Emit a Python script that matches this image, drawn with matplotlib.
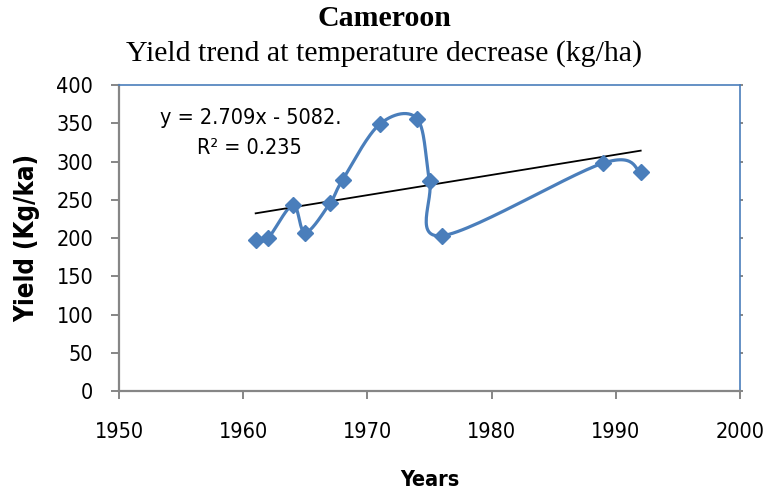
import numpy as np
import matplotlib.pyplot as plt
from matplotlib import font_manager

# valores
years = [1961, 1962, 1964, 1965, 1967, 1968, 1971, 1974, 1975, 1976, 1989, 1992]
yield_kg = [197, 200, 243, 207, 246, 276, 349, 356, 275, 203, 298, 286]
eq_text = "y = 2.709x - 5082."
r2_text = "R² = 0.235"

# buscar una fuente estrecha si existe
narrow = None
narrow_bold = None
for f in font_manager.fontManager.ttflist:
    tag = (f.name + ' ' + f.fname).lower()
    if ('narrow' in tag or 'condensed' in tag or f.stretch in ('condensed', 'semi-condensed')) \
            and f.style == 'normal' and 'semicondensed' not in tag:
        w = f.weight if isinstance(f.weight, int) else (700 if 'bold' in str(f.weight) else 400)
        if w >= 600 and narrow_bold is None:
            narrow_bold = f.fname
        elif w < 600 and narrow is None:
            narrow = f.fname

if narrow:
    fp = font_manager.FontProperties(fname=narrow)
    fs_tick, fs_txt = 15.5, 15.5
else:
    fp = font_manager.FontProperties(family='Liberation Sans')
    fs_tick, fs_txt = 16, 16
if narrow_bold:
    fpb = font_manager.FontProperties(fname=narrow_bold)
    fs_xlab, fs_ylab = 15.5, 18.5
else:
    fpb = font_manager.FontProperties(family='Liberation Sans', weight='bold')
    fs_xlab, fs_ylab = 15.5, 17

serif = 'Liberation Serif'
blue = '#4A7EBB'
gray = '#868686'


def excel_smooth(x, y, n=30):
    # curva suavizada tipo Excel (Bezier con puntos de control de Catmull-Rom)
    x = np.asarray(x, float)
    y = np.asarray(y, float)
    px, py = [], []
    for i in range(len(x) - 1):
        x0, y0 = (x[i - 1], y[i - 1]) if i > 0 else (x[i], y[i])
        x3, y3 = (x[i + 2], y[i + 2]) if i + 2 < len(x) else (x[i + 1], y[i + 1])
        p1 = (x[i], y[i])
        p2 = (x[i + 1], y[i + 1])
        c1 = (p1[0] + (p2[0] - x0) / 6, p1[1] + (p2[1] - y0) / 6)
        c2 = (p2[0] - (x3 - p1[0]) / 6, p2[1] - (y3 - p1[1]) / 6)
        t = np.linspace(0, 1, n)
        bx = (1 - t) ** 3 * p1[0] + 3 * (1 - t) ** 2 * t * c1[0] + 3 * (1 - t) * t ** 2 * c2[0] + t ** 3 * p2[0]
        by = (1 - t) ** 3 * p1[1] + 3 * (1 - t) ** 2 * t * c1[1] + 3 * (1 - t) * t ** 2 * c2[1] + t ** 3 * p2[1]
        px.extend(bx)
        py.extend(by)
    return np.array(px), np.array(py)


fig = plt.figure(figsize=(7.68, 4.94), dpi=100)
ax = fig.add_axes([0.155, 0.2085, 0.8086, 0.6194])

sx, sy = excel_smooth(years, yield_kg)
ax.plot(sx, sy, color=blue, lw=2.3, zorder=2)
ax.plot(years, yield_kg, linestyle='none', marker='D', ms=8, color=blue, zorder=3)

# línea de tendencia
m, b = np.polyfit(years, yield_kg, 1)
tx = np.array([years[0], years[-1]])
ax.plot(tx, m * tx + b, color='black', lw=1.3, zorder=2)

ax.set_xlim(1950, 2000)
ax.set_ylim(0, 400)
ax.set_xticks(range(1950, 2001, 10))
ax.set_yticks(range(0, 401, 50))

for s in ['left', 'bottom']:
    ax.spines[s].set_color(gray)
    ax.spines[s].set_linewidth(1.6)
for s in ['top', 'right']:
    ax.spines[s].set_color(blue)
    ax.spines[s].set_linewidth(1.2)

ax.tick_params(axis='both', direction='out', color=gray, width=1.4, length=5.5)
ax.tick_params(axis='x', pad=17)
ax.tick_params(axis='y', pad=13)
ax.tick_params(axis='y', which='major', right=True)
for t in ax.yaxis.get_major_ticks():
    t.tick2line.set_markersize(2.5)
for lab in ax.get_xticklabels() + ax.get_yticklabels():
    lab.set_fontproperties(fp)
    lab.set_fontsize(fs_tick)

ax.set_xlabel('Years', fontproperties=fpb, fontsize=fs_xlab, labelpad=20)
ax.set_ylabel('Yield (Kg/ka)', fontproperties=fpb, fontsize=fs_ylab, labelpad=12)

ax.text(1953.3, 357, eq_text, fontproperties=fp, fontsize=fs_txt, va='center')
ax.text(1956.3, 318, r2_text, fontproperties=fp, fontsize=fs_txt, va='center')

fig.text(0.5, 0.962, 'Cameroon', ha='center', va='center', fontfamily=serif,
         fontweight='bold', fontsize=21.5)
fig.text(0.5, 0.891, 'Yield trend at temperature decrease (kg/ha)', ha='center',
         va='center', fontfamily=serif, fontsize=21.5)

fig.savefig('out.png', dpi=100)
